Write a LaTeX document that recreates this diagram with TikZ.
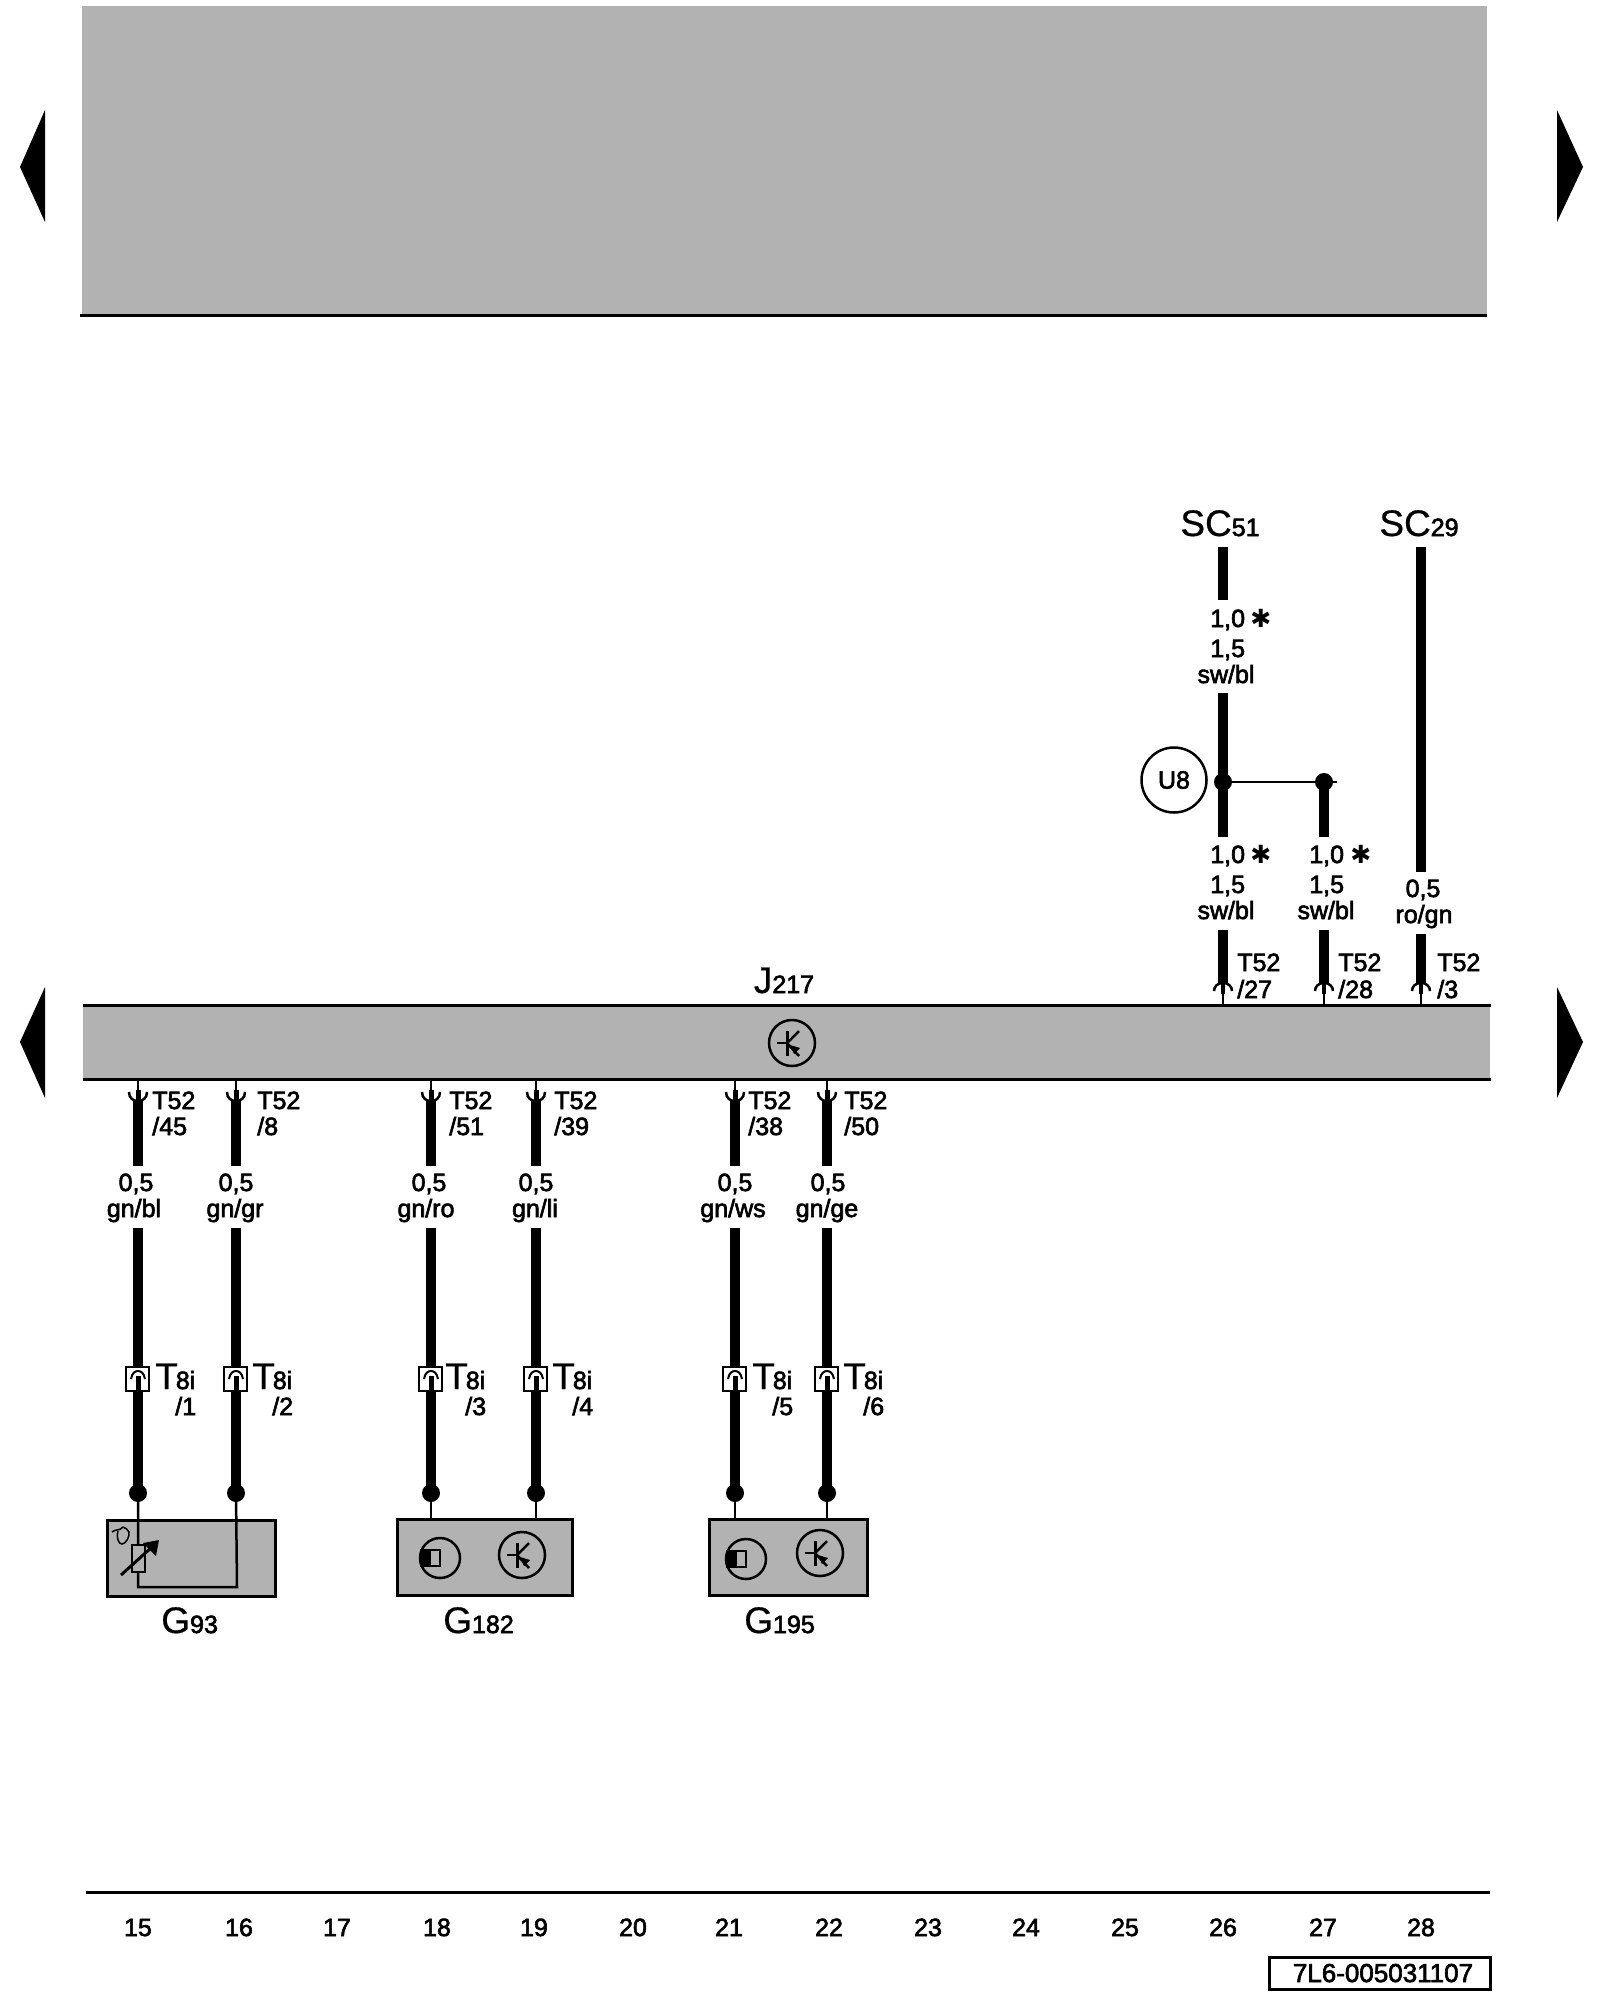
\documentclass[tikz,border=0pt]{standalone}
\usepackage{fontspec}
\setmainfont{Liberation Sans}[FakeBold=2.5]
\newfontfamily\largefont{Liberation Sans}[FakeBold=0.5]
\newfontfamily\starfont{DejaVu Sans}
\usetikzlibrary{arrows}
\definecolor{devgray}{HTML}{B2B2B2}
\newcommand{\lblsize}{\fontsize{25}{27}\selectfont}
\newcommand{\bigsize}{\largefont\fontsize{37}{39}\selectfont}
\newcommand{\starsize}{\starfont\fontsize{25}{27}\selectfont}
\tikzset{
    plugup/.pic={
        \draw[line width=2.5pt] (-9,8) .. controls (-9,3) and (-5,0) .. (0,0) .. controls (5,0) and (9,3) .. (9,8);
        \draw[line width=4pt] (0,1) -- (0,11);
        \draw[line width=2.5pt] (0,10) -- (0,21);
    },
    plugdown/.pic={
        \draw[line width=2.5pt] (-9,-10) .. controls (-9,-4) and (-5,-1) .. (0,-1) .. controls (5,-1) and (9,-4) .. (9,-10);
        \draw[line width=5pt] (0,-1) -- (0,-12);
        \draw[line width=2.5pt] (0,-11) -- (0,-21);
    },
    socket/.pic={
        \draw[line width=2.5pt, fill=white] (-12,-12) rectangle (11,12);
        \draw[line width=2pt] (-7,0) .. controls (-6,-6) and (-3,-8) .. (0,-8) .. controls (3,-8) and (6,-6) .. (7,0);
        \draw[line width=5pt] (0,-3) -- (0,11);
    },
    hallsym/.pic={
        \draw[line width=2.5pt] (0,0) circle (20);
        \fill[black] (-19,-8) rectangle (-9,8);
        \draw[line width=2.5pt] (-19,-8) rectangle (0,8);
    },
    transsym/.pic={
        \draw[line width=2.5pt] (0,0) circle (23);
        \draw[line width=3pt] (-5,-12) -- (-5,13);
        \draw[line width=2.5pt] (-15,0) -- (-5,0);
        \draw[line width=2.5pt] (-5,0) -- (7,-12);
        \draw[line width=2.5pt] (-5,0) -- (7,13);
        \fill[black] (-2,2) -- (8,5) -- (2,11) -- cycle;
    }
}

\begin{document}
\begin{tikzpicture}[
            x = 1pt, y = -1pt,
            > = stealth, % arrow head style
            semithick % line style
        ]

        \tikzstyle{every node}=[
        inner sep = 0pt,
        font = \lblsize,
        anchor = base
        ]
        \tikzstyle{tag}=[anchor = base west]
        \tikzstyle{wire}=[line width = 10.5pt]
        \tikzstyle{thinwire}=[line width = 2.5pt]
        \tikzstyle{edge}=[line width = 3pt]
        \tikzstyle{dot}=[circle, fill = black, minimum size = 18pt, anchor = center]
        \tikzstyle{devbox}=[draw = black, line width = 3pt, fill = devgray, anchor = north west]
        \tikzstyle{flag}=[fill = black]

        \useasboundingbox (0,0) rectangle (1600,2000);

        % page arrows
        \fill[flag] (45,110) -- (20,167) -- (45,222) -- cycle;
        \fill[flag] (1557,110) -- (1583,167) -- (1557,222) -- cycle;
        \fill[flag] (45,987) -- (20,1042) -- (45,1098) -- cycle;
        \fill[flag] (1557,987) -- (1583,1042) -- (1557,1098) -- cycle;

        % grey head block
        \node[fill = devgray, minimum width = 1405pt, minimum height = 309pt, anchor = north west] (head) at (82,6) {};
        \coordinate (headl) at (80,315);
        \coordinate (headr) at (1487,315);
        \draw[edge] (headl) -- (headr);

        % control unit
        \node[fill = devgray, minimum width = 1407pt, minimum height = 74pt, anchor = north west] (band) at (83,1005) {};
        \draw[edge] (band.north west) -- (band.north east);
        \draw[edge] (band.south west) -- (band.south east);
        \pic at (792,1043) {transsym};
        \node (j217) at (784,993) {{\bigsize J}217};

        % upper wires
        \node (sc51) at (1220,536) {{\bigsize SC}51};
        \node (sc29) at (1419,536) {{\bigsize SC}29};
        \coordinate (s1a) at (1223,547); \coordinate (s1b) at (1223,600);
        \coordinate (s1c) at (1223,693); \coordinate (s1d) at (1223,837);
        \coordinate (s1e) at (1223,930); \coordinate (s1f) at (1223,984);
        \coordinate (s2d) at (1324,837);
        \coordinate (s2e) at (1324,930); \coordinate (s2f) at (1324,984);
        \coordinate (s3a) at (1421,547); \coordinate (s3b) at (1421,872);
        \coordinate (s3e) at (1421,934); \coordinate (s3f) at (1421,984);
        \coordinate (stub) at (1337,782);
        \node[dot] (u8dot) at (1223,782) {};
        \node[dot] (s2dot) at (1324,782) {};
        \draw[wire] (s1a) -- (s1b);
        \draw[wire] (s1c) -- (s1d);
        \draw[wire] (s1e) -- (s1f);
        \draw[wire] (s2dot.center) -- (s2d);
        \draw[wire] (s2e) -- (s2f);
        \draw[wire] (s3a) -- (s3b);
        \draw[wire] (s3e) -- (s3f);
        \draw[thinwire] (u8dot.center) -- (stub);
        \pic at (1223,983) {plugup};
        \pic at (1324,983) {plugup};
        \pic at (1421,983) {plugup};
        \node[draw = black, line width = 2.5pt, circle, minimum size = 65pt, anchor = center] (u8) at (1174,780) {U8};

        \node[tag] (s1size1) at (1210,627) {1,0};
        \node[tag] (s1star1) at (1250,627) {\starsize ✱};
        \node[tag] (s1size2) at (1210,657) {1,5};
        \node (s1col1) at (1226,683) {sw/bl};
        \node[tag] (s1size3) at (1210,863) {1,0};
        \node[tag] (s1star2) at (1250,863) {\starsize ✱};
        \node[tag] (s1size4) at (1210,893) {1,5};
        \node (s1col2) at (1226,919) {sw/bl};
        \node[tag] (s2size1) at (1309,863) {1,0};
        \node[tag] (s2star) at (1350,863) {\starsize ✱};
        \node[tag] (s2size2) at (1309,893) {1,5};
        \node (s2col) at (1326,919) {sw/bl};
        \node (s3size) at (1423,897) {0,5};
        \node (s3col) at (1424,923) {ro/gn};
        \node[tag] (tu1) at (1237,971) {T52};
        \node[tag] (pu1) at (1237,998) {/27};
        \node[tag] (tu2) at (1338,971) {T52};
        \node[tag] (pu2) at (1338,998) {/28};
        \node[tag] (tu3) at (1437,971) {T52};
        \node[tag] (pu3) at (1437,998) {/3};

        % lower wires
        \node[dot] (d1) at (138,1493) {};
        \node[dot] (d2) at (236,1493) {};
        \node[dot] (d3) at (431,1493) {};
        \node[dot] (d4) at (536,1493) {};
        \node[dot] (d5) at (735,1493) {};
        \node[dot] (d6) at (827,1493) {};
        \coordinate (w1a) at (138,1100); \coordinate (w1b) at (138,1166); \coordinate (w1c) at (138,1228);
        \coordinate (w2a) at (236,1100); \coordinate (w2b) at (236,1166); \coordinate (w2c) at (236,1228);
        \coordinate (w3a) at (431,1100); \coordinate (w3b) at (431,1166); \coordinate (w3c) at (431,1228);
        \coordinate (w4a) at (536,1100); \coordinate (w4b) at (536,1166); \coordinate (w4c) at (536,1228);
        \coordinate (w5a) at (735,1100); \coordinate (w5b) at (735,1166); \coordinate (w5c) at (735,1228);
        \coordinate (w6a) at (827,1100); \coordinate (w6b) at (827,1166); \coordinate (w6c) at (827,1228);
        \draw[wire] (w1a) -- (w1b); \draw[wire] (w1c) -- (d1.center);
        \draw[wire] (w2a) -- (w2b); \draw[wire] (w2c) -- (d2.center);
        \draw[wire] (w3a) -- (w3b); \draw[wire] (w3c) -- (d3.center);
        \draw[wire] (w4a) -- (w4b); \draw[wire] (w4c) -- (d4.center);
        \draw[wire] (w5a) -- (w5b); \draw[wire] (w5c) -- (d5.center);
        \draw[wire] (w6a) -- (w6b); \draw[wire] (w6c) -- (d6.center);
        \pic at (138,1102) {plugdown};
        \pic at (236,1102) {plugdown};
        \pic at (431,1102) {plugdown};
        \pic at (536,1102) {plugdown};
        \pic at (735,1102) {plugdown};
        \pic at (827,1102) {plugdown};
        \pic at (138,1379) {socket};
        \pic at (236,1379) {socket};
        \pic at (431,1379) {socket};
        \pic at (536,1379) {socket};
        \pic at (735,1379) {socket};
        \pic at (827,1379) {socket};

        \node[tag] (tl1) at (152,1109) {T52}; \node[tag] (pl1) at (152,1135) {/45};
        \node[tag] (tl2) at (257,1109) {T52}; \node[tag] (pl2) at (257,1135) {/8};
        \node[tag] (tl3) at (449,1109) {T52}; \node[tag] (pl3) at (449,1135) {/51};
        \node[tag] (tl4) at (554,1109) {T52}; \node[tag] (pl4) at (554,1135) {/39};
        \node[tag] (tl5) at (748,1109) {T52}; \node[tag] (pl5) at (748,1135) {/38};
        \node[tag] (tl6) at (844,1109) {T52}; \node[tag] (pl6) at (844,1135) {/50};

        \node (sz1) at (136,1191) {0,5}; \node (col1) at (134,1217) {gn/bl};
        \node (sz2) at (236,1191) {0,5}; \node (col2) at (235,1217) {gn/gr};
        \node (sz3) at (429,1191) {0,5}; \node (col3) at (426,1217) {gn/ro};
        \node (sz4) at (536,1191) {0,5}; \node (col4) at (535,1217) {gn/li};
        \node (sz5) at (735,1191) {0,5}; \node (col5) at (733,1217) {gn/ws};
        \node (sz6) at (828,1191) {0,5}; \node (col6) at (827,1217) {gn/ge};

        \node[tag] (t8a) at (155,1389) {{\bigsize T}\kern-2pt 8i}; \node[tag] (pin1) at (175,1415) {/1};
        \node[tag] (t8b) at (252,1389) {{\bigsize T}\kern-2pt 8i}; \node[tag] (pin2) at (272,1415) {/2};
        \node[tag] (t8c) at (445,1389) {{\bigsize T}\kern-2pt 8i}; \node[tag] (pin3) at (465,1415) {/3};
        \node[tag] (t8d) at (552,1389) {{\bigsize T}\kern-2pt 8i}; \node[tag] (pin4) at (572,1415) {/4};
        \node[tag] (t8e) at (752,1389) {{\bigsize T}\kern-2pt 8i}; \node[tag] (pin5) at (772,1415) {/5};
        \node[tag] (t8f) at (843,1389) {{\bigsize T}\kern-2pt 8i}; \node[tag] (pin6) at (863,1415) {/6};

        % sensors
        \node[devbox, minimum width = 168pt, minimum height = 76pt] (g93) at (106,1519) {};
        \node[devbox, minimum width = 175pt, minimum height = 76pt] (g182) at (396,1518) {};
        \node[devbox, minimum width = 158pt, minimum height = 76pt] (g195) at (708,1518) {};
        \coordinate (r1) at (138,1587);
        \coordinate (r2) at (237,1587);
        \draw[thinwire] (d1.center) -- (r1) -- (r2) -- (d2.center);
        \draw[thinwire] (d3.center) -- (d3 |- g182.north);
        \draw[thinwire] (d4.center) -- (d4 |- g182.north);
        \draw[thinwire] (d5.center) -- (d5 |- g195.north);
        \draw[thinwire] (d6.center) -- (d6 |- g195.north);
        \draw[thinwire, fill = devgray] (132,1545) rectangle (145,1572);
        \draw[line width = 3pt] (121,1575) -- (152,1547);
        \fill[black] (159,1540) -- (143,1543) -- (156,1556) -- cycle;
        \draw[line width = 1.5pt] (112,1532) .. controls (115,1529) and (120,1531) .. (123,1527);
        \draw[line width = 1.5pt] (118,1531) .. controls (116,1539) and (119,1544) .. (122,1544) .. controls (126,1544) and (130,1536) .. (129,1532) .. controls (128,1529) and (125,1528) .. (123,1527);
        \pic at (440,1558) {hallsym};
        \pic at (522,1555) {transsym};
        \pic at (746,1559) {hallsym};
        \pic at (820,1553) {transsym};
        \node[tag] (g93lbl) at (161,1633) {{\bigsize G}93};
        \node[tag] (g182lbl) at (443,1633) {{\bigsize G}182};
        \node[tag] (g195lbl) at (744,1633) {{\bigsize G}195};

        % track numbers
        \coordinate (axisl) at (86,1892);
        \coordinate (axisr) at (1490,1892);
        \draw[edge] (axisl) -- (axisr);
        \node (n15) at (138,1936) {15};
        \node (n16) at (239,1936) {16};
        \node (n17) at (337,1936) {17};
        \node (n18) at (437,1936) {18};
        \node (n19) at (534,1936) {19};
        \node (n20) at (633,1936) {20};
        \node (n21) at (729,1936) {21};
        \node (n22) at (829,1936) {22};
        \node (n23) at (928,1936) {23};
        \node (n24) at (1026,1936) {24};
        \node (n25) at (1125,1936) {25};
        \node (n26) at (1223,1936) {26};
        \node (n27) at (1323,1936) {27};
        \node (n28) at (1421,1936) {28};
        \node[draw = black, line width = 3pt, minimum width = 221pt, minimum height = 32pt, anchor = north west] (code) at (1268,1956) {};
        \node[font = \fontsize{26}{28}\selectfont] (codetext) at (1383,1982) {7L6-005031107};
    \end{tikzpicture}
\end{document}
